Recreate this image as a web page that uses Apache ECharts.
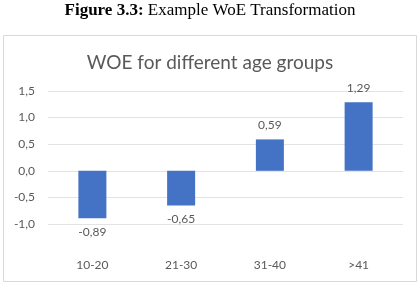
<!DOCTYPE html>
<html>
<head>
<meta charset="utf-8">
<script src="https://cdn.jsdelivr.net/npm/echarts@6/dist/echarts.min.js"></script>
<style>
html,body{margin:0;padding:0;background:#fff;}
#c{width:420px;height:283px;}
</style>
</head>
<body>
<div id="c"></div>
<script>
var categories = ['10-20', '21-30', '31-40', '>41'];
var woeValues = [-0.89, -0.65, 0.59, 1.29];
var yMin = -1.0, yMax = 1.5, yStep = 0.5;
var captionBold = 'Figure 3.3:';
var captionRest = ' Example WoE Transformation';
var chartTitle = 'WOE for different age groups';

function comma(v, d) { return v.toFixed(d).replace('.', ','); }

var chart = echarts.init(document.getElementById('c'), null, {renderer: 'canvas'});
chart.setOption({
  animation: false,
  backgroundColor: '#ffffff',
  graphic: [
    {
      type: 'rect', left: 3, top: 35, shape: {width: 413, height: 246},
      style: {fill: '#ffffff', stroke: '#d9d9d9', lineWidth: 1}, z: -10
    },
    {
      type: 'text', left: 'center', top: 2,
      style: {
        text: '{b|' + captionBold + '}{r|' + captionRest + '}',
        rich: {
          b: {fontFamily: 'Liberation Serif', fontWeight: 'bold', fontSize: 17, fill: '#000'},
          r: {fontFamily: 'Liberation Serif', fontSize: 17, fill: '#000'}
        }
      }
    }
  ],
  title: {
    text: chartTitle, left: 'center', top: 48,
    textStyle: {fontFamily: 'Lato', fontWeight: 'normal', fontSize: 19, color: '#595959'}
  },
  grid: {left: 48, right: 17, top: 91, bottom: 59, containLabel: false},
  xAxis: {
    type: 'category', data: categories,
    axisLine: {show: false, onZero: false}, axisTick: {show: false},
    axisLabel: {margin: 35, color: '#595959', fontFamily: 'Lato', fontSize: 12}
  },
  yAxis: {
    type: 'value', min: yMin, max: yMax, interval: yStep,
    axisLine: {show: false}, axisTick: {show: false},
    splitLine: {lineStyle: {color: '#e3e3e3', width: 1}},
    axisLabel: {
      margin: 13, color: '#595959', fontFamily: 'Lato', fontSize: 12,
      formatter: function (v) { return comma(v, 1); }
    }
  },
  series: [{
    type: 'bar', barWidth: 28,
    data: woeValues.map(function (v) {
      return {
        value: v,
        label: {position: v < 0 ? 'bottom' : 'top'}
      };
    }),
    itemStyle: {color: '#4472c4'},
    label: {
      show: true, distance: 8, color: '#595959', fontFamily: 'Lato', fontSize: 12,
      formatter: function (p) { return comma(p.value, 2); }
    }
  }]
});
</script>
</body>
</html>
